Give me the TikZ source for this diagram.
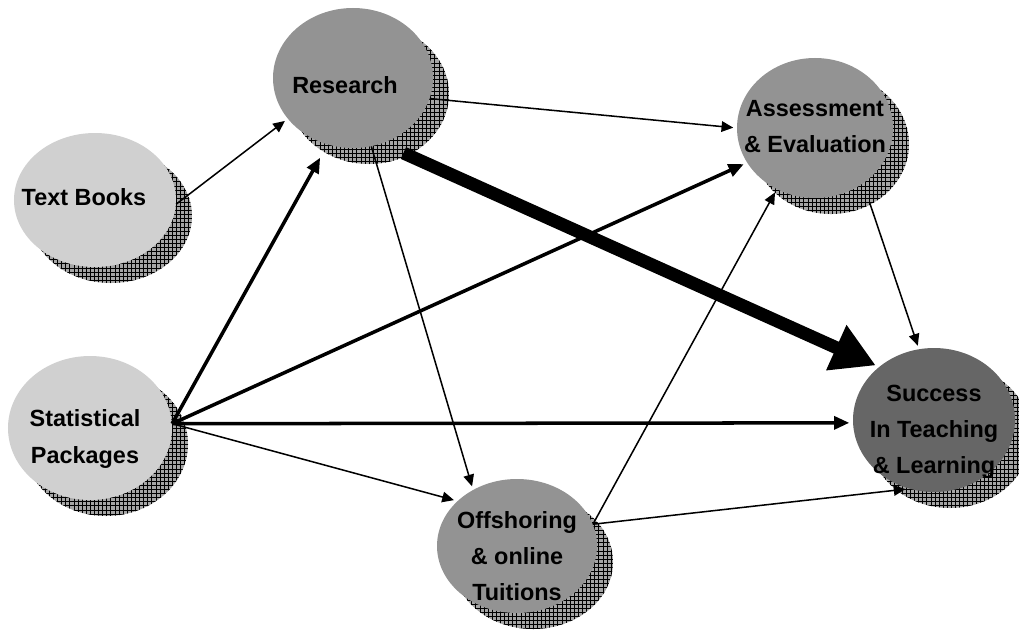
\documentclass[tikz,border=0pt]{standalone}
\usepackage{fontspec}
\setmainfont{Liberation Sans}
\usepackage{tikz}
\usetikzlibrary{arrows.meta,shapes.geometric,patterns}
\definecolor{lightbub}{RGB}{208,208,208}
\definecolor{midbub}{RGB}{147,147,147}
\definecolor{darkbub}{RGB}{102,102,102}
\definecolor{shadowbg}{RGB}{165,165,165}

% grid used in the bubble shadows
\pgfdeclarepatternformonly{bubgrid}{\pgfqpoint{-1pt}{-1pt}}{\pgfqpoint{4.5pt}{4.5pt}}{\pgfqpoint{3.5pt}{3.5pt}}{
  \pgfsetlinewidth{0.45pt}
  \pgfpathmoveto{\pgfqpoint{3.5001pt}{0pt}}
  \pgfpathlineto{\pgfqpoint{0pt}{0pt}}
  \pgfpathlineto{\pgfqpoint{0pt}{3.5001pt}}
  \pgfusepath{stroke}
}

% one line of bubble text, zero sized so it never widens the bubble
\newcommand{\bubdrop}{0cm}
\newcommand{\bubpush}{0cm}
\newcommand{\bl}[1]{\raisebox{-\bubdrop}[0pt][0pt]{\makebox[0pt]{#1\hspace*{\bubpush}}}}

\begin{document}
\begin{tikzpicture}[x=0.03cm, y=-0.03cm,
    txtdrop/.code={\gdef\bubdrop{#1}},
    txtpush/.code={\gdef\bubpush{#1}},
    bubble/.style={ellipse, inner sep=0pt, align=center, txtdrop=0cm, txtpush=0cm,
        font=\bfseries\fontsize{20}{31}\selectfont,
        preaction={fill=shadowbg, transform canvas={xshift=0.48cm, yshift=-0.48cm}},
        preaction={pattern=bubgrid, pattern color=black, transform canvas={xshift=0.48cm, yshift=-0.48cm}}},
    link/.style={-{Triangle[length=10pt,width=9pt]}, line width=1.3pt, shorten >=3pt},
    boldlink/.style={-{Triangle[length=13pt,width=11pt]}, line width=3pt, shorten >=3pt},
    mainlink/.style={-{Triangle[length=1.3cm,width=1.4cm]}, line width=11pt, shorten >=3pt}]
    \useasboundingbox (0,0) rectangle (1019,641);

    % Bubbles
    \node[bubble, fill=lightbub, minimum width=4.86cm, minimum height=4.02cm, txtdrop=0.17cm, txtpush=0.66cm] (tb) at (95,200) {\bl{Text Books}};
    \node[bubble, fill=lightbub, minimum width=4.92cm, minimum height=4.32cm, txtdrop=0.51cm, txtpush=0.3cm] (sp) at (90,428) {\bl{Statistical}\\\bl{Packages}};
    \node[bubble, fill=midbub, minimum width=4.8cm, minimum height=4.2cm, txtdrop=0.47cm, txtpush=0.48cm] (res) at (353,78) {\bl{Research}};
    \node[bubble, fill=midbub, minimum width=4.68cm, minimum height=4.2cm, txtdrop=0.2cm] (ae) at (815,128) {\bl{Assessment}\\\bl{\& Evaluation}};
    \node[bubble, fill=midbub, minimum width=4.8cm, minimum height=4.02cm, txtdrop=0.56cm] (off) at (517,546) {\bl{Offshoring}\\\bl{\& online}\\\bl{Tuitions}};
    \node[bubble, fill=darkbub, minimum width=4.86cm, minimum height=4.32cm, txtdrop=0.53cm] (suc) at (934,420) {\bl{Success}\\\bl{In Teaching}\\\bl{\& Learning}};

    % Links
    \draw[link] (tb.-3) -- (res.212);
    \draw[link] (res.-15) -- (ae.west);
    \draw[mainlink, shorten <=0.7cm] (res.-66) -- (suc.136);
    \draw[link] (res.-75) -- (off.128);
    \draw[boldlink, shorten >=0.45cm] (sp.3) -- (res.249);
    \draw[boldlink] (sp.3) -- (ae.207);
    \draw[boldlink] (sp.3) -- (suc.182);
    \draw[link] (sp.3) -- (off.143);
    \draw[link] (off.16) -- (ae.238);
    \draw[link] (off.16) -- (suc.250);
    \draw[link, shorten <=0.6cm] (ae.-49) -- (suc.102);
\end{tikzpicture}
\end{document}
